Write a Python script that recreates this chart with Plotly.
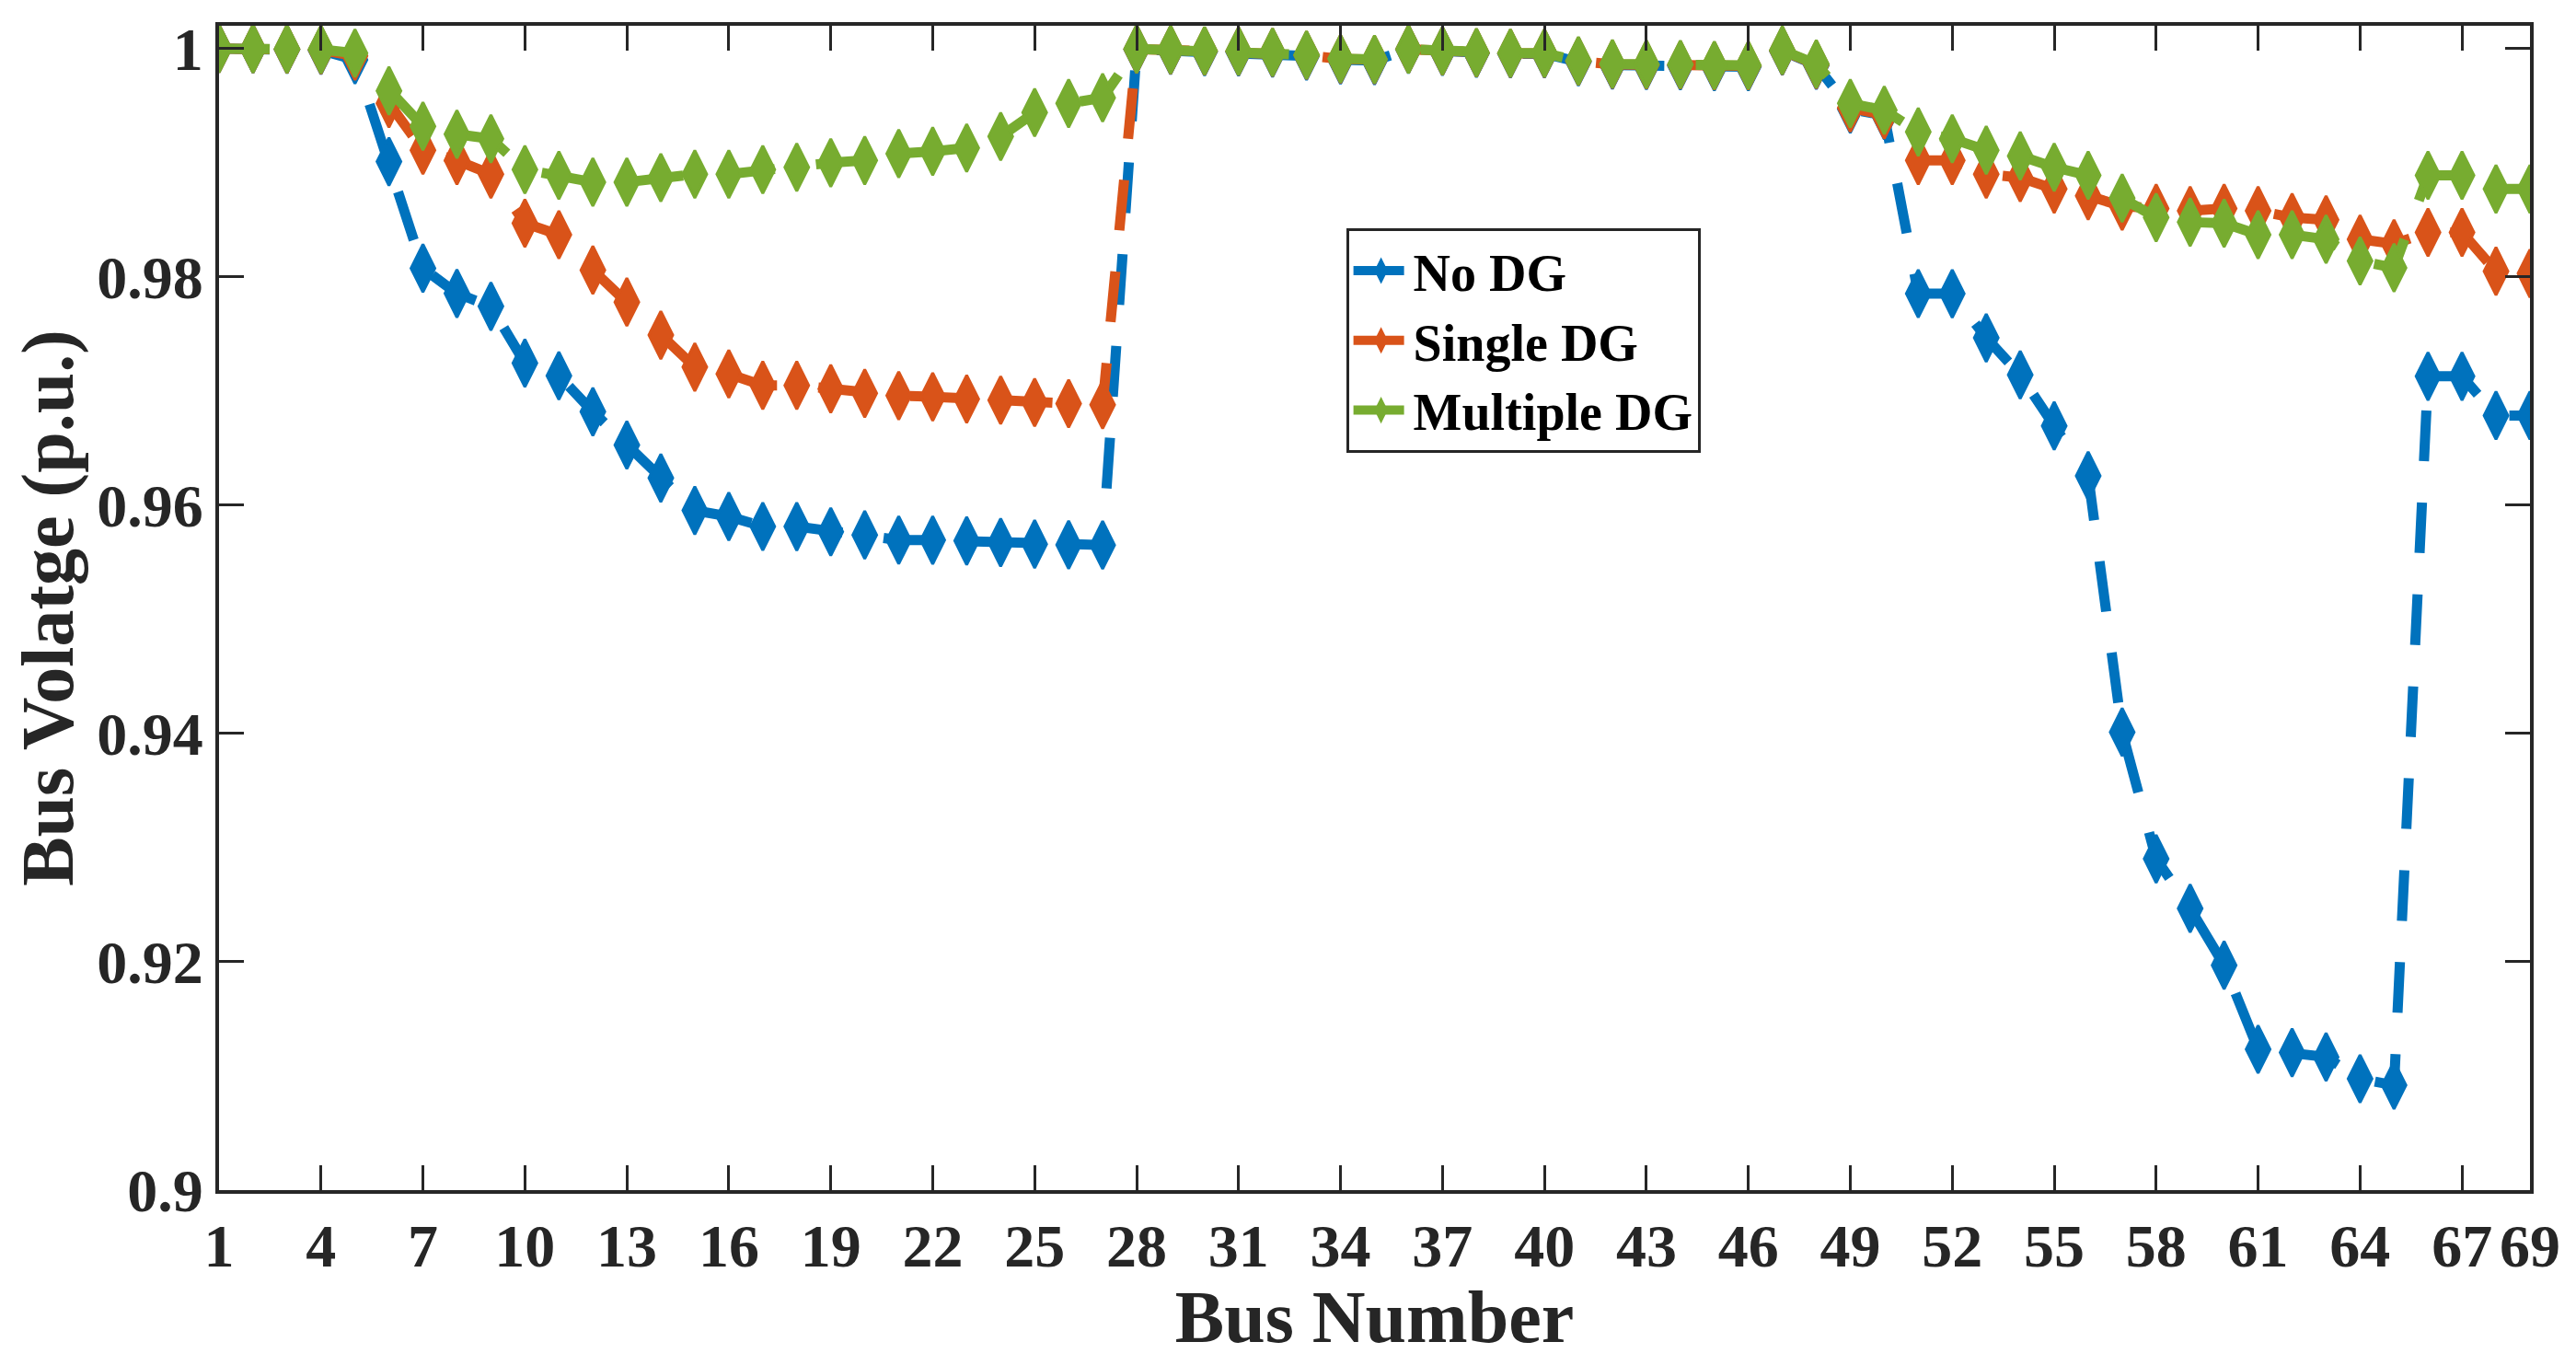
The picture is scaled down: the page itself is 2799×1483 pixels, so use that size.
import plotly.graph_objects as go

# bus voltage profile, 69-bus system
bus = list(range(1, 70))

v_no_dg = [1.0, 0.99997, 0.99993, 0.99984, 0.99902, 0.99010, 0.98076, 0.97855, 0.97742, 0.97245,
           0.97134, 0.96819, 0.96527, 0.96238, 0.95954, 0.95901, 0.95814, 0.95813, 0.95767, 0.95740,
           0.95695, 0.95694, 0.95688, 0.95674, 0.95659, 0.95653, 0.95651, 0.99993, 0.99985, 0.99973,
           0.99971, 0.99961, 0.99935, 0.99901, 0.99895, 0.99992, 0.99975, 0.99959, 0.99954, 0.99954,
           0.99884, 0.99855, 0.99851, 0.99850, 0.99841, 0.99841, 0.99979, 0.99854, 0.99470, 0.99415,
           0.97854, 0.97853, 0.97466, 0.97142, 0.96695, 0.96258, 0.94012, 0.92902, 0.92468, 0.91970,
           0.91234, 0.91205, 0.91166, 0.90976, 0.90919, 0.97129, 0.97129, 0.96786, 0.96786]

v_single_dg = [1.0, 0.99998, 0.99995, 0.99988, 0.99935, 0.9952, 0.9911, 0.9902, 0.9890, 0.9847,
               0.9837, 0.9806, 0.9778, 0.9749, 0.9721, 0.9715, 0.9705, 0.9705, 0.9702, 0.9698,
               0.9696, 0.9695, 0.9693, 0.9692, 0.9690, 0.9689, 0.9688, 0.99995, 0.99988, 0.99978,
               0.99976, 0.99966, 0.99942, 0.99909, 0.99903, 0.99994, 0.99978, 0.99963, 0.99958, 0.99958,
               0.99890, 0.99862, 0.99858, 0.99857, 0.99849, 0.99849, 0.99982, 0.99860, 0.9948, 0.9942,
               0.9902, 0.9902, 0.9890, 0.9887, 0.9877, 0.9871, 0.9862, 0.9860, 0.9858, 0.9860,
               0.9858, 0.9852, 0.9850, 0.9833, 0.9829, 0.9839, 0.9839, 0.9805, 0.9803]

v_multi_dg = [1.0, 0.99999, 0.99997, 0.99992, 0.99960, 0.9963, 0.9932, 0.9925, 0.9921, 0.9894,
              0.9889, 0.9883, 0.9883, 0.9887, 0.9890, 0.9890, 0.9894, 0.9896, 0.9900, 0.9902,
              0.9908, 0.9910, 0.9913, 0.9923, 0.9944, 0.9952, 0.9957, 0.99997, 0.99990, 0.99980,
              0.99978, 0.99968, 0.99944, 0.99912, 0.99906, 0.99995, 0.99980, 0.99965, 0.99960, 0.99960,
              0.99893, 0.99866, 0.99862, 0.99861, 0.99853, 0.99853, 0.99985, 0.99865, 0.9952, 0.9946,
              0.9927, 0.9921, 0.9911, 0.9906, 0.9896, 0.9889, 0.9869, 0.9852, 0.9848, 0.9847,
              0.9837, 0.9837, 0.9833, 0.9814, 0.9808, 0.9889, 0.9889, 0.9877, 0.9877]

series_names = ["No DG", "Single DG", "Multiple DG"]
series_colors = ["#0072BD", "#D95319", "#77AC30"]

x_ticks = [1, 4, 7, 10, 13, 16, 19, 22, 25, 28, 31, 34, 37, 40, 43, 46, 49, 52, 55, 58, 61, 64, 67, 69]
y_ticks = [0.9, 0.92, 0.94, 0.96, 0.98, 1]

font_name = "Liberation Serif"
axis_color = "#262626"

fig = go.Figure()
for name, vals, col in zip(series_names, [v_no_dg, v_single_dg, v_multi_dg], series_colors):
    fig.add_trace(go.Scatter(
        x=bus, y=vals, name=f"<b>{name}</b>", mode="lines+markers",
        line=dict(color=col, width=11, dash="55px,45px"),
        marker=dict(symbol="diamond-tall", size=37, color=col, line=dict(color=col, width=3)),
    ))

axis_common = dict(
    showline=True, linecolor=axis_color, linewidth=4, mirror="ticks",
    ticks="inside", ticklen=27, tickwidth=3, tickcolor=axis_color,
    showgrid=False, zeroline=False,
    tickfont=dict(family=font_name, size=66, color=axis_color),
)

fig.update_xaxes(
    range=[1, 69], tickvals=x_ticks, ticktext=[f"<b>{t}</b>" for t in x_ticks],
    title=dict(text="<b>Bus Number</b>", font=dict(family=font_name, size=80, color=axis_color), standoff=20),
    **axis_common,
)
fig.update_yaxes(
    range=[0.9, 1.002], tickvals=y_ticks, ticktext=[f"<b>{t:g}</b>" for t in y_ticks],
    title=dict(text="<b>Bus Volatge (p.u.)</b>", font=dict(family=font_name, size=80, color=axis_color), standoff=25),
    **axis_common,
)

# page body has an 8px margin, so the figure is kept 16px smaller than the window
fig.update_layout(
    width=2783, height=1467,
    margin=dict(l=230, r=35, t=9, b=178),
    plot_bgcolor="white", paper_bgcolor="white",
    showlegend=True,
    legend=dict(
        x=0.4877, y=0.826, xanchor="left", yanchor="top",
        bgcolor="white", bordercolor="#262626", borderwidth=3,
        font=dict(family=font_name, size=56, color="black"),
        itemwidth=60, tracegroupgap=0,
    ),
)

fig.write_html("out.html")
